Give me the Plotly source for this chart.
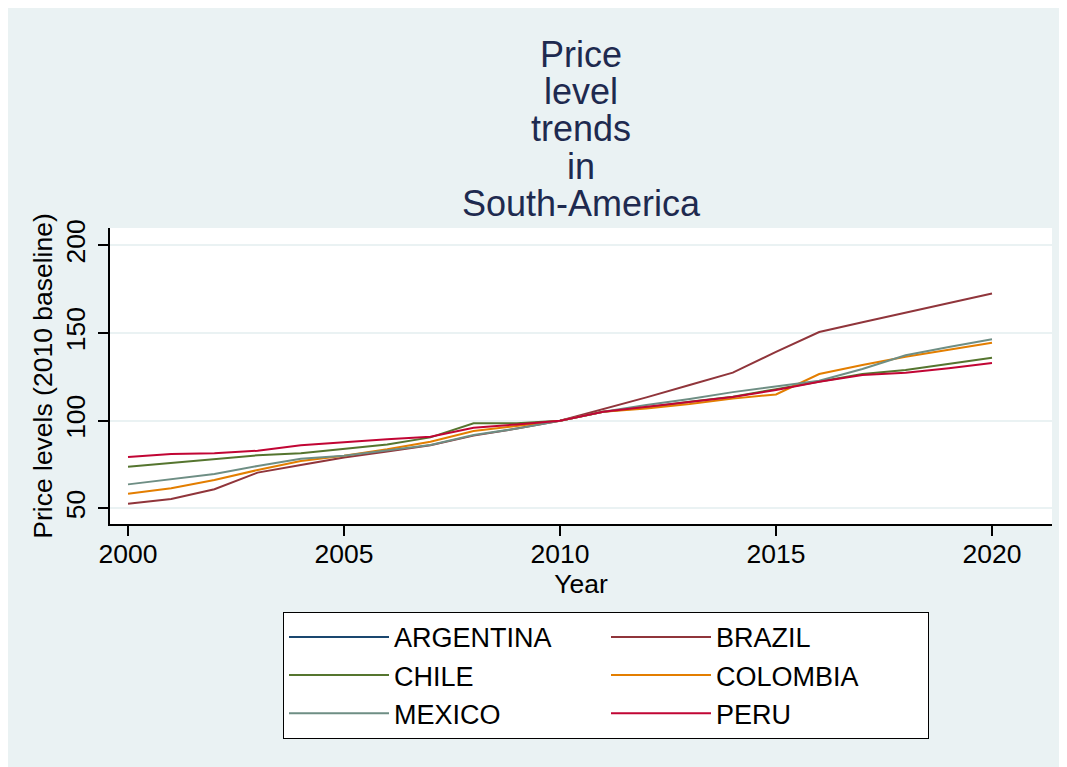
import plotly.graph_objects as go

years = list(range(2000, 2021))
countries = ["ARGENTINA", "BRAZIL", "CHILE", "COLOMBIA", "MEXICO", "PERU"]
colors = ["#1a476f", "#90353b", "#55752f", "#e37e00", "#6e8e84", "#c10534"]

# Argentina has no observations in the chart (legend entry only)
argentina = [None, None, None, None, None, None, None, None, None, None, None,
             None, None, None, None, None, None, None, None, None, None]
brazil = [52.7, 55.4, 60.9, 70.4, 74.7, 79.0, 82.5, 86.0, 91.5, 95.5, 100.0,
          106.5, 113.3, 120.4, 127.4, 139.3, 150.6, 156.1, 161.7, 167.2, 172.6]
chile = [73.8, 76.0, 78.0, 80.3, 81.4, 83.9, 86.5, 90.5, 98.5, 98.5, 100.0,
         105.1, 107.5, 110.8, 113.7, 118.0, 122.2, 126.6, 128.9, 132.2, 135.9]
colombia = [58.4, 61.5, 66.2, 71.9, 77.0, 80.0, 83.7, 88.0, 94.1, 97.2, 100.0,
            105.1, 107.0, 109.5, 112.6, 115.0, 126.6, 131.8, 136.5, 140.5, 144.5]
mexico = [63.7, 66.6, 69.6, 74.2, 78.3, 80.0, 82.9, 86.1, 91.8, 95.5, 100.0,
          105.1, 109.0, 112.4, 116.3, 119.5, 122.8, 129.5, 137.3, 142.0, 146.4]
peru = [79.3, 81.0, 81.4, 82.9, 86.0, 87.9, 89.4, 90.9, 96.0, 97.9, 100.0,
        105.1, 108.0, 111.0, 113.5, 117.5, 122.2, 126.0, 127.4, 129.9, 132.9]

series = [argentina, brazil, chile, colombia, mexico, peru]

x_ticks = [2000, 2005, 2010, 2015, 2020]
y_ticks = [50, 100, 150, 200]

FONT = "Liberation Sans, Arial, Helvetica, sans-serif"

fig = go.Figure()
for name, col, vals in zip(countries, colors, series):
    fig.add_trace(go.Scatter(
        x=years, y=vals, mode="lines", name=name,
        line=dict(color=col, width=2),
    ))

title_lines = ["Price", "level", "trends", "in", "South-America"]
title_text = "<br>".join('<span style="font-size:36px">%s</span>' % t for t in title_lines)

W, H = 1059, 759

fig.update_layout(
    width=W, height=H,
    margin=dict(l=102, r=15, t=220, b=243),
    paper_bgcolor="#eaf2f3",
    plot_bgcolor="#ffffff",
    font=dict(family=FONT, size=26, color="#000000"),
    title=dict(text=title_text, x=0.5, xref="paper", xanchor="center",
               y=1 - 59 / H, yref="container", yanchor="top",
               font=dict(family=FONT, size=28.6, color="#1e2a4f")),
    showlegend=True,
    legend=dict(orientation="h", x=173 / 942, xanchor="left", y=-0.297, yanchor="top",
                bgcolor="#ffffff", bordercolor="#000000", borderwidth=1,
                font=dict(family=FONT, size=27, color="#000000"),
                itemwidth=100, entrywidth=207, traceorder="normal"),
    xaxis=dict(range=[1999.583, 2021.389], tickvals=x_ticks, ticks="outside",
               ticklen=10, tickwidth=1.5, tickcolor="#000000", ticklabelstandoff=-5,
               showline=True, linecolor="#000000", linewidth=1.5,
               showgrid=False, zeroline=False,
               title=dict(text="Year", standoff=2, font=dict(size=26.5)),
               tickfont=dict(size=26.5)),
    yaxis=dict(range=[41.1, 209.9], tickvals=y_ticks, ticks="outside",
               ticklen=10, tickwidth=1.5, tickcolor="#000000", tickangle=-90,
               ticklabelstandoff=3,
               showline=True, linecolor="#000000", linewidth=1.5,
               showgrid=True, gridcolor="#eaf2f3", gridwidth=2, zeroline=False,
               title=dict(text="Price levels (2010 baseline)", standoff=0, font=dict(size=26.5)),
               tickfont=dict(size=26.5)),
)

fig.write_html("out.html")
